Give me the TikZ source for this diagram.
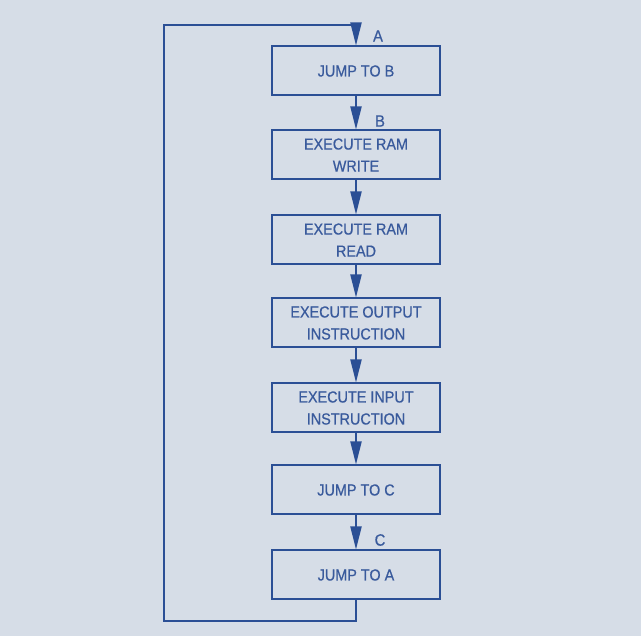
\documentclass[tikz,border=0pt]{standalone}
\usepackage{fontspec}
\setmainfont{Liberation Sans}[FakeStretch=0.9, FakeBold=0.6]
\usetikzlibrary{arrows.meta}
\definecolor{paper}{HTML}{D6DDE7}
\definecolor{flowblue}{HTML}{2B4F95}
\colorlet{flowtext}{flowblue!92!paper}

\tikzset{
  stepbox/.style={draw=flowblue, line width=2pt, fill=paper, minimum width=168pt,
    minimum height=49pt, align=center, font=\fontsize{16}{22}\selectfont, text=flowtext},
  flow/.style={draw=flowblue, line width=2pt, -{Triangle[length=23pt,width=11pt]}},
  tag/.style={font=\fontsize{16.5}{18}\selectfont, text=flowtext}
}

\begin{document}
\begin{tikzpicture}[x=1pt, y=1pt]
\fill[paper] (0,0) rectangle (641,636);
\useasboundingbox (0,0) rectangle (641,636);

\node[stepbox] (jb) at (356,565) {JUMP TO B};
\node[stepbox] (rw) at (356,481) {EXECUTE RAM\\WRITE};
\node[stepbox] (rr) at (356,396) {EXECUTE RAM\\READ};
\node[stepbox] (oi) at (356,313) {EXECUTE OUTPUT\\INSTRUCTION};
\node[stepbox] (ii) at (356,228) {EXECUTE INPUT\\INSTRUCTION};
\node[stepbox] (jc) at (356,146) {JUMP TO C};
\node[stepbox] (ja) at (356,61) {JUMP TO A};

\draw[flow] (jb) -- (rw);
\draw[flow] (rw) -- (rr);
\draw[flow] (rr) -- (oi);
\draw[flow] (oi) -- (ii);
\draw[flow] (ii) -- (jc);
\draw[flow] (jc) -- (ja);

% loop back to the top
\coordinate (lb) at (164,15);
\coordinate (lt) at (164,611);
\draw[flow] (ja.south) |- (lb) -- (lt) -| (jb.north);

\node[tag] (la) at (378,600) {A};
\node[tag] (lbl) at (380,515) {B};
\node[tag] (lc) at (380,96) {C};
\end{tikzpicture}
\end{document}
